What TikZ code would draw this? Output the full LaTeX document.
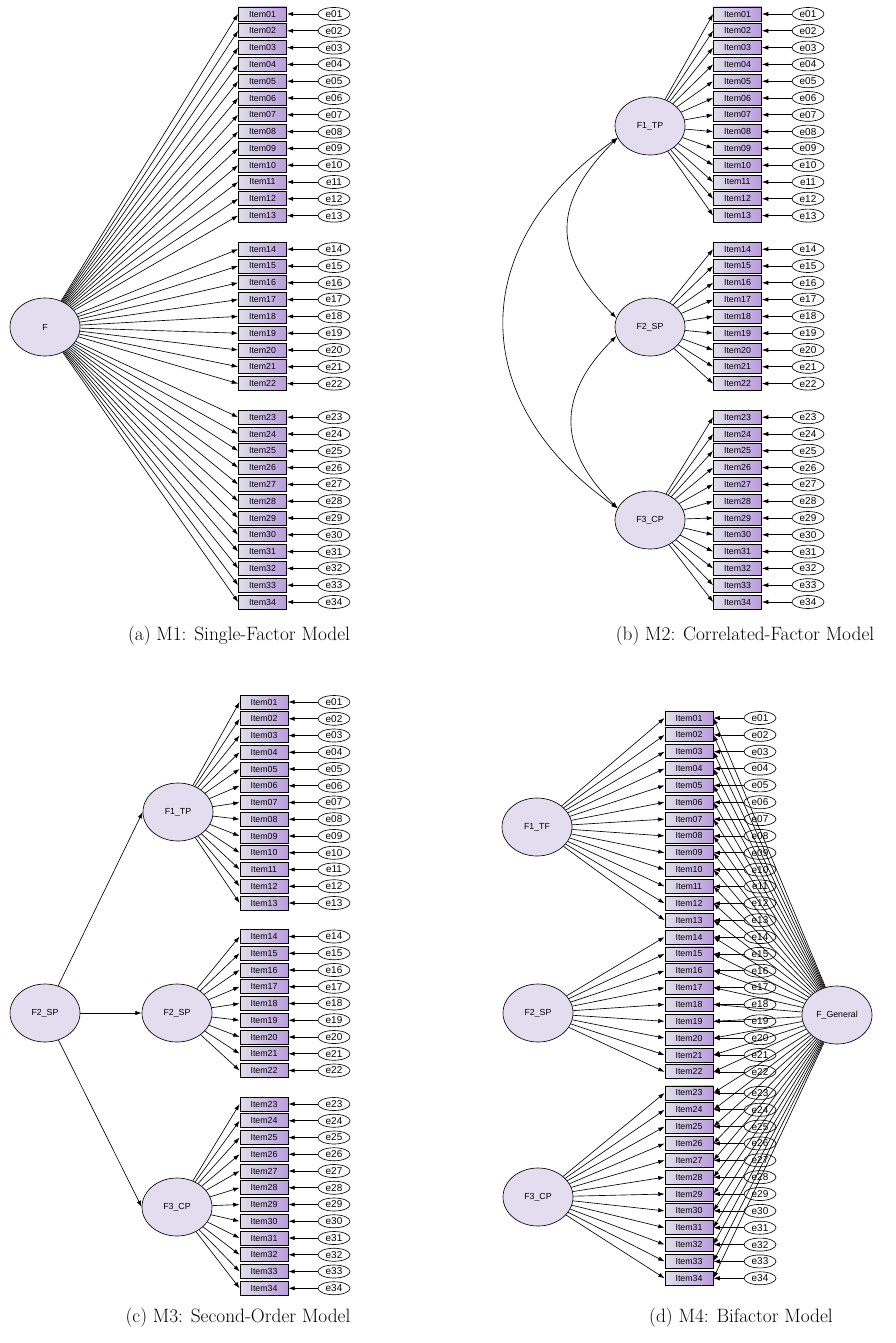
\documentclass[tikz,border=0pt]{standalone}
\usepackage{fontspec}
\newfontfamily\amosfont{Liberation Sans}
\usetikzlibrary{arrows.meta, shapes.geometric}

\definecolor{itemleft}{RGB}{222,223,233}
\definecolor{itemright}{RGB}{186,156,220}
\definecolor{factorfill}{RGB}{228,221,240}

\begin{document}
\begin{tikzpicture} [x=0.03cm, y=-0.03cm, line width=0.55pt,
    >={Latex[length=1.9mm, width=1.3mm]},
    obs/.style = {draw, line width=0.7pt, rectangle, left color=itemleft, right color=itemright,
        minimum width=1.44cm, minimum height=0.42cm, inner sep=0pt,
        font=\amosfont\fontsize{7.5}{8}\selectfont},
    err/.style = {draw, ellipse, fill=white, minimum width=0.96cm, minimum height=0.39cm,
        inner sep=0pt, font=\amosfont\fontsize{8.5}{9}\selectfont},
    latent/.style = {draw, ellipse, fill=factorfill, minimum width=2.1cm, minimum height=1.74cm,
        inner sep=0pt, font=\amosfont\fontsize{7.5}{8}\selectfont},
    subcap/.style = {font=\fontsize{16.5}{20}\selectfont}]

    \useasboundingbox (0,0) rectangle (896,1343);

    % (a) single factor
    \node (aF) [latent] at (45,327) {F};
    \foreach \i in {1,...,34} {
        \pgfmathsetmacro\s{\i-1+(\i>13)+(\i>22)}
        \edef\nn{\ifnum\i<10 0\fi\i}
        \node (a\i) [obs] at (262.5,{14+16.8*\s}) {Item\nn};
        \node (ae\i) [err] at (334,{14+16.8*\s}) {e\nn};
    }
    \foreach \i in {1,...,34}
        \path [->] (aF) edge (a\i.west) (ae\i) edge (a\i);

    % (b) correlated factors
    \node (b1) [latent] at (650,126) {F1\_TP};
    \node (b2) [latent] at (650,327) {F2\_SP};
    \node (b3) [latent] at (650,520) {F3\_CP};
    \foreach \i in {1,...,34} {
        \pgfmathsetmacro\s{\i-1+(\i>13)+(\i>22)}
        \edef\nn{\ifnum\i<10 0\fi\i}
        \node (b\i i) [obs] at (737.5,{14+16.8*\s}) {Item\nn};
        \node (be\i) [err] at (808,{14+16.8*\s}) {e\nn};
    }
    \foreach \i in {1,...,34} {
        \pgfmathtruncatemacro\f{1+(\i>13)+(\i>22)}
        \path [->] (b\f) edge (b\i i.west) (be\i) edge (b\i i);
    }
    \path [<->] (b1.200) edge [out=215, in=145, looseness=1.28] (b3.160)
                (b1.200) edge [out=225, in=135, looseness=1.31] (b2.165)
                (b2.195) edge [out=225, in=135, looseness=1.26] (b3.160);

    % (c) second order
    \node (cS) [latent] at (45,1013) {F2\_SP};
    \node (c1) [latent] at (178,812) {F1\_TP};
    \node (c2) [latent] at (177,1013) {F2\_SP};
    \node (c3) [latent] at (177,1207) {F3\_CP};
    \foreach \i in {1,...,34} {
        \pgfmathsetmacro\s{\i-1+(\i>13)+(\i>22)}
        \edef\nn{\ifnum\i<10 0\fi\i}
        \node (c\i i) [obs] at (264,{702+16.75*\s}) {Item\nn};
        \node (ce\i) [err] at (334,{702+16.75*\s}) {e\nn};
    }
    \foreach \i in {1,...,34} {
        \pgfmathtruncatemacro\f{1+(\i>13)+(\i>22)}
        \path [->] (c\f) edge (c\i i.west) (ce\i) edge (c\i i);
    }
    \path [->] (cS) edge (c1.west) edge (c2.west) edge (c3.west);

    % (d) bifactor
    \node (d1) [latent] at (537,827) {F1\_TF};
    \node (d2) [latent] at (538,1013) {F2\_SP};
    \node (d3) [latent] at (538,1197) {F3\_CP};
    \node (dG) [latent] at (837,1015) {F\_General};
    \foreach \i in {1,...,34} {
        \pgfmathsetmacro\s{\i-1+0.25*(\i>22)}
        \edef\nn{\ifnum\i<10 0\fi\i}
        \node (d\i i) [obs] at (689,{718+16.85*\s}) {Item\nn};
        \node (de\i) [err] at (760,{718+16.85*\s}) {e\nn};
    }
    \foreach \i in {1,...,34} {
        \pgfmathtruncatemacro\f{1+(\i>13)+(\i>22)}
        \path [->] (d\f) edge (d\i i.west) (de\i) edge (d\i i) (dG) edge (d\i i.east);
    }

    % captions
    \node (capa) [subcap] at (239,636) {(a) M1: Single-Factor Model};
    \node (capb) [subcap] at (745,636) {(b) M2: Correlated-Factor Model};
    \node (capc) [subcap] at (238,1318) {(c) M3: Second-Order Model};
    \node (capd) [subcap] at (741,1318) {(d) M4: Bifactor Model};

\end{tikzpicture}
\end{document}
